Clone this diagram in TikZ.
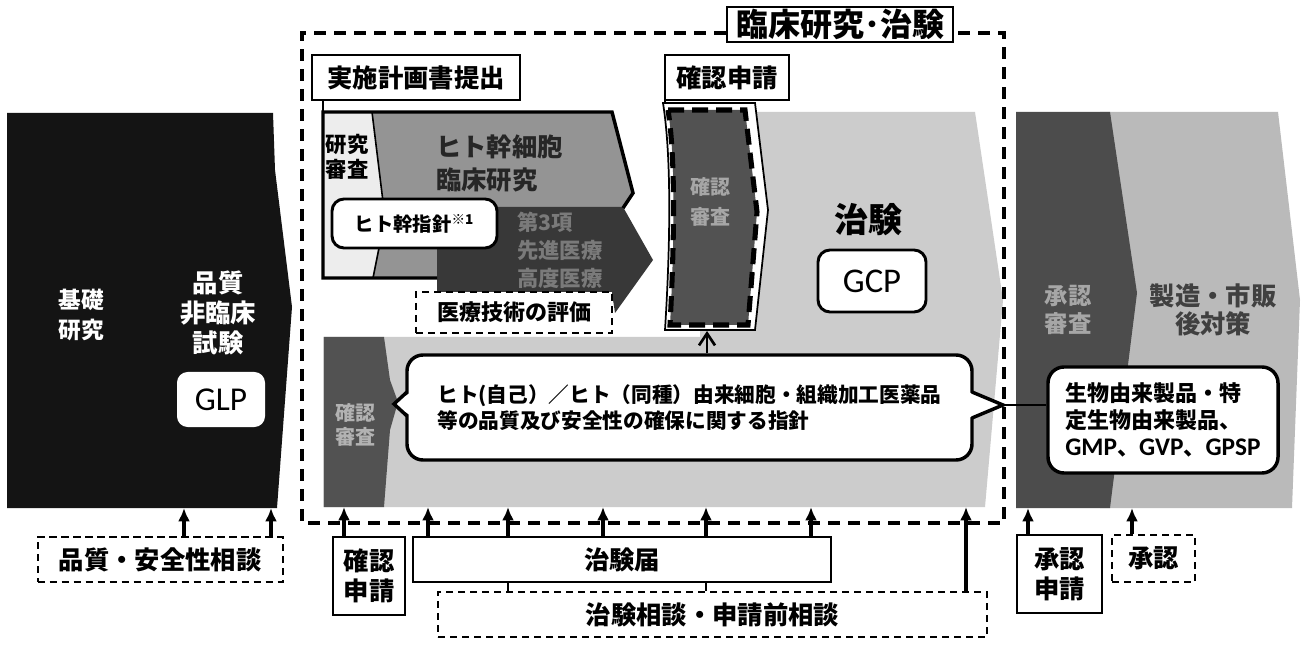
\documentclass[tikz,border=0pt]{standalone}
\usepackage{fontspec}
\setmainfont{Noto Sans CJK JP}
\newfontfamily\lat{Carlito}
\usetikzlibrary{arrows.meta}
\newcommand{\fsz}[2]{\fontsize{#1}{#2}\selectfont}
\newcommand{\px}{0.75pt}
\colorlet{cBase}{black!92}
\colorlet{cLight}{black!7}
\colorlet{cHito}{black!42}
\colorlet{cSen}{black!78}
\colorlet{cKak}{black!68}
\colorlet{cChi}{black!20}
\colorlet{cSho}{black!70}
\colorlet{cSeiz}{black!27}
\begin{document}
\begin{tikzpicture}[x=0.75pt,y=-0.75pt,
  txt/.style={inner sep=0pt, align=center},
  wbox/.style={draw, line width=1.7pt, fill=white, inner sep=0pt, align=center},
  rbox/.style={wbox, rounded corners=7pt},
  dbox/.style={draw, line width=1.5pt, dash pattern=on 5.5pt off 3.5pt, fill=white, inner sep=0pt, align=center},
  bigdash/.style={line width=2.8pt, dash pattern=on 9pt off 6pt},
  arr/.style={line width=2.4pt, -{Latex[length=10pt,width=9pt]}},
  conn/.style={line width=2.2pt},
]
\useasboundingbox (0,0) rectangle (1306,648);
\fill[white] (0,0) rectangle (1306,648);

% ---------- left block
\fill[cBase] (7,113) -- (273,113) -- (275,170) -- (292,307) -- (277,508) -- (7,508) -- cycle;
\node[txt, text=white, font=\bfseries\fsz{17}{22.5}] (kiso) at (81,315) {基礎\\研究};
\node[txt, text=white, font=\bfseries\fsz{19}{22.5}] (hinsh) at (218,313) {品質\\非臨床\\試験};
\node[wbox, draw=none, rounded corners=8pt, minimum width=88*\px, minimum height=55*\px, font=\lat\fsz{25}{28}] (glp) at (221,399.5) {GLP};

% ---------- trial region (light)
\fill[cChi] (700,112) -- (975,112) -- (1003,300) -- (985,507) -- (323,507) -- (323,337) -- (700,337) -- cycle;
\node[txt, font=\bfseries\fsz{25.5}{28}] (chiken) at (868,220) {治験};
\node[rbox, line width=2.2pt, rounded corners=9pt, minimum width=108*\px, minimum height=62*\px, font=\lat\fsz{26}{28}] (gcp) at (872,281) {GCP};

% ---------- stem cell clinical research
\fill[cLight] (323,112) -- (372,112) -- (385,218) -- (373,278) -- (323,278) -- cycle;
\fill[cHito] (372,112) -- (612,112) -- (633,193) -- (623,208) -- (437,208) -- (437,278) -- (373,278) -- (385,218) -- cycle;
\draw[line width=1.2pt] (372,112) -- (385,218) -- (373,278);
\fill[cSen] (437,207) -- (623,207) -- (653,260) -- (615,313) -- (612,293) -- (437,293) -- cycle;
\draw[line width=2.6pt, line join=miter] (437,278) -- (323,278) -- (323,112) -- (612,112) -- (633,193) -- (623,208);
\node[txt, align=left, font=\bfseries\fsz{16}{19}] (kenshin) at (347,157) {研究\\審査};
\node[txt, align=left, anchor=west, text=black!85, font=\bfseries\fsz{19}{25}] (hito) at (436,163.5) {ヒト幹細胞\\臨床研究};
\node[rbox, line width=2.2pt, rounded corners=9pt, minimum width=165*\px, minimum height=49*\px, font=\bfseries\fsz{14.5}{16}] (shishin) at (414.5,223.5) {ヒト幹指針\textsuperscript{※1}};
\node[txt, align=left, anchor=west, text=black!52, font=\bfseries\fsz{16}{21}] (sen) at (517,250) {第3項\\先進医療\\高度医療};
\node[dbox, minimum width=196*\px, minimum height=41*\px, font=\bfseries\fsz{16.5}{18}] (iryo) at (514,312.5) {医療技術の評価};

% ---------- upper kakunin shinsa
\draw[line width=1.3pt, fill=white] (663,103) -- (755,103) -- (768,210) -- (755,330) -- (665,330) .. controls (670,250) and (672,160) .. (663,103) -- cycle;
\filldraw[fill=cKak, line width=3.8pt, dash pattern=on 12pt off 6pt] (668,110) -- (745,110) -- (757,212) -- (748,325) -- (670,325) .. controls (674,250) and (676,160) .. (668,110) -- cycle;
\node[txt, text=black!35, font=\bfseries\fsz{15}{22}] (kaksh) at (710,202) {確認\\審査};

% ---------- lower kakunin shinsa
\fill[cKak] (324,337) -- (384,337) -- (390,380) -- (398,402) -- (390,430) -- (384,507) -- (324,507) -- cycle;
\node[txt, text=black!30, font=\bfseries\fsz{15}{18}] (kak2) at (355,425) {確認\\審査};

% ---------- approval / post-marketing
\fill[cSeiz] (1100,112) -- (1278,112) -- (1300,300) -- (1292,508) -- (1100,508) -- cycle;
\fill[cSho] (1016,112) -- (1110,112) -- (1137,293) -- (1110,508) -- (1016,508) -- cycle;
\node[txt, text=black!35, font=\bfseries\fsz{17.5}{21}] (shosh) at (1068,310) {承認\\審査};
\node[txt, text=black!75, font=\bfseries\fsz{19}{21}] (seizo) at (1213,310) {製造・市販\\後対策};

% ---------- guideline box
\node[draw, line width=2.6pt, fill=white, rounded corners=12pt, minimum width=565*\px, minimum height=105*\px, inner sep=0pt, align=left, font=\bfseries\fsz{15.5}{19.5}] (guide) at (689.5,407.5) {ヒト(自己）／ヒト（同種）由来細胞・組織加工医薬品\\等の品質及び安全性の確保に関する指針};
\coordinate (ltip) at (394,404);
\coordinate (rtip) at (1003,405);
\fill[white] (411,392) -- (ltip) -- (411,416) -- cycle;
\draw[line width=2.6pt] (407,392) -- (ltip) -- (407,416);
\fill[white] (968,392) -- (rtip) -- (968,418) -- cycle;
\draw[line width=2.6pt] (972,392) -- (rtip) -- (972,418);
\node[rbox, line width=2.6pt, rounded corners=12pt, minimum width=230*\px, minimum height=106*\px, align=left, font=\bfseries\fsz{16.5}{20}] (seib) at (1163,420) {生物由来製品・特\\定生物由来製品、\\{\lat\fsz{19}{20}GMP}、{\lat\fsz{19}{20}GVP}、{\lat\fsz{19}{20}GPSP}};
\draw[conn] (rtip) -- (rtip -| seib.west);
\coordinate (kakbot) at (707,331);
\draw[line width=2pt, -{Straight Barb[length=9pt,width=12pt]}] (guide.north -| kakbot) -- (kakbot);

% ---------- outer dashed frame and header boxes
\node[wbox, minimum width=226*\px, minimum height=35*\px, font=\bfseries\fsz{24}{26}] (title) at (840,24.5) {臨床研究･治験};
\draw[bigdash] (title.west |- 0,33) -- (302,33) -- (302,523) -- (1004,523) -- (1004,33) -- (title.east |- 0,33);
\node[wbox, minimum width=208*\px, minimum height=45*\px, font=\bfseries\fsz{19}{22}] (jisshi) at (416,77.5) {実施計画書提出};
\node[wbox, minimum width=124*\px, minimum height=45*\px, font=\bfseries\fsz{19}{22}] (kakreq) at (727,77.5) {確認申請};
\coordinate (stemtop) at (323,112);
\coordinate (kaktop) at (665,103);
\draw[conn] (jisshi.south -| stemtop) -- (stemtop);
\draw[conn] (kakreq.south -| kaktop) -- (kaktop);

% ---------- bottom boxes
\node[dbox, minimum width=245*\px, minimum height=45*\px, font=\bfseries\fsz{19}{22}] (hin) at (160,559.5) {品質・安全性相談};
\node[wbox, minimum width=72*\px, minimum height=78*\px, font=\bfseries\fsz{19}{22.5}] (kakreq2) at (369,576) {確認\\申請};
\node[wbox, minimum width=418*\px, minimum height=45*\px, font=\bfseries\fsz{19}{22}] (todoke) at (622,559.5) {治験届};
\node[dbox, minimum width=549*\px, minimum height=45*\px, font=\bfseries\fsz{19}{22}] (soudan) at (712.5,614.5) {治験相談・申請前相談};
\node[wbox, minimum width=85*\px, minimum height=78*\px, font=\bfseries\fsz{19}{22.5}] (shoreq) at (1059.5,574) {承認\\申請};
\node[dbox, minimum width=83*\px, minimum height=47*\px, font=\bfseries\fsz{19}{22}] (shonin) at (1153.5,558.5) {承認};

\coordinate (b1) at (184,508);
\coordinate (b2) at (271,508);
\coordinate (b3) at (344,507);
\coordinate (b4) at (428,507);
\coordinate (b5) at (508,507);
\coordinate (b6) at (603,507);
\coordinate (b7) at (706,507);
\coordinate (b8) at (811,507);
\coordinate (b9) at (966,507);
\coordinate (b10) at (1028,508);
\coordinate (b11) at (1132,508);
\draw[arr] (hin.north -| b1) -- (b1);
\draw[arr] (hin.north -| b2) -- (b2);
\draw[arr] (kakreq2.north -| b3) -- (b3);
\foreach \b in {b4,b5,b6,b7,b8} {\draw[arr] (todoke.north -| \b) -- (\b);}
\draw[arr] (soudan.north -| b9) -- (b9);
\draw[conn] (soudan.north -| b5) -- (todoke.south -| b5);
\draw[conn] (soudan.north -| b7) -- (todoke.south -| b7);
\draw[arr] (shoreq.north -| b10) -- (b10);
\draw[arr] (shonin.north -| b11) -- (b11);
\end{tikzpicture}
\end{document}
